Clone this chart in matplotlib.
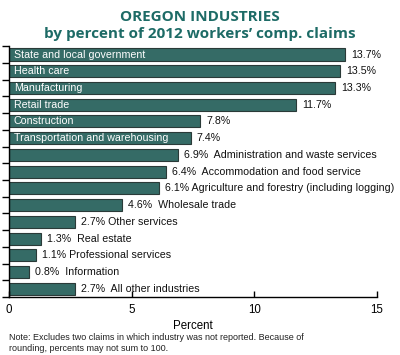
import matplotlib
matplotlib.use("Agg")
import matplotlib.pyplot as plt
import numpy as np

industries = ["State and local government", "Health care", "Manufacturing", "Retail trade",
              "Construction", "Transportation and warehousing",
              "Administration and waste services", "Accommodation and food service",
              "Agriculture and forestry (including logging)", "Wholesale trade",
              "Other services", "Real estate", "Professional services", "Information",
              "All other industries"]
values = [13.7, 13.5, 13.3, 11.7, 7.8, 7.4, 6.9, 6.4, 6.1, 4.6, 2.7, 1.3, 1.1, 0.8, 2.7]
inside = [True]*6 + [False]*9
seps = ["  ", "  ", " ", "  ", " ", "  ", " ", "  ", "  "]
xticks = [0, 5, 10, 15]

teal = "#356b66"
edge = "#2a3a38"
title_col = "#1d6b66"

fig = plt.figure(figsize=(4.0, 3.55), dpi=100)
n = len(values)
ax = fig.add_axes([0.0225, 0.163, 0.92, 0.707])
y = np.arange(n)
ax.barh(y, values, height=0.72, color=teal, edgecolor=edge, linewidth=0.8)
ax.set_ylim(n - 0.5, -0.5)
ax.set_xlim(0, 15)

fam = ["Liberation Sans", "DejaVu Sans"]
k = 0
for i, (name, v) in enumerate(zip(industries, values)):
    if inside[i]:
        ax.text(0.2, i, name, color="white", fontsize=7.7, va="center", ha="left", family=fam)
        ax.text(v + 0.25, i, f"{v}%", color="#111111", fontsize=7.7, va="center", ha="left", family=fam)
    else:
        ax.text(v + 0.25, i, f"{v}%{seps[k]}{name}", color="#111111", fontsize=7.7,
                va="center", ha="left", family=fam)
        k += 1

for s in ["top", "right"]:
    ax.spines[s].set_visible(False)
ax.spines["left"].set_linewidth(1.0)
ax.spines["bottom"].set_linewidth(1.0)
ax.set_yticks(np.arange(-0.5, n, 1))
ax.set_yticklabels([])
ax.tick_params(axis="y", direction="out", length=5, width=1)
ax.set_xticks(xticks)
ax.set_xticklabels([str(t) for t in xticks], fontsize=8.3, family=fam)
ax.tick_params(axis="x", direction="in", length=4, width=1, pad=5)
ax.set_xlabel("Percent", fontsize=8.3, family=fam, labelpad=3)

fig.text(0.5, 0.951, "OREGON INDUSTRIES", ha="center", va="center", fontsize=11,
         fontweight="bold", color=title_col, family=["Open Sans", "DejaVu Sans"])
fig.text(0.5, 0.904, "by percent of 2012 workers\u2019 comp. claims", ha="center", va="center",
         fontsize=11, fontweight="bold", color=title_col, family=["Open Sans", "DejaVu Sans"])
fig.text(0.0225, 0.034, "Note: Excludes two claims in which industry was not reported. Because of\nrounding, percents may not sum to 100.",
         ha="left", va="center", fontsize=6.5, color="#222222", family=fam, linespacing=1.35)

fig.savefig("out.png", dpi=100)
